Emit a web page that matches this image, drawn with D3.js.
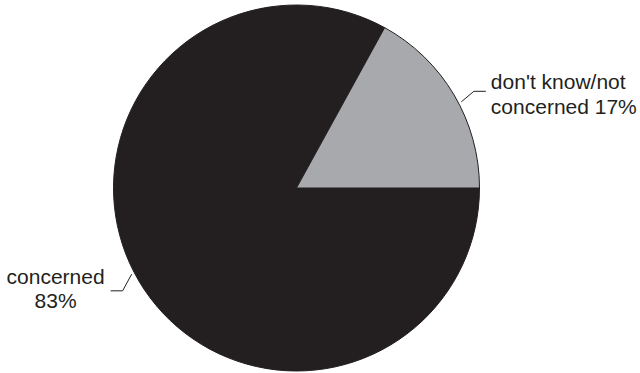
<!DOCTYPE html>
<html>
<head>
<meta charset="utf-8">
<script src="https://cdn.jsdelivr.net/npm/d3@7"></script>
<style>
  body { margin: 0; background: #fff; }
  text { font-family: "Liberation Sans", Arial, sans-serif; fill: #231f20; }
</style>
</head>
<body>
<div class="pie-plot"></div>
<script>
// data
const categories = ['concerned', "don't know/not concerned"];
const values = [83, 17];
const labelLines = [['concerned', '83%'], ["don't know/not", 'concerned 17%']];
const colors = ['#231f20', '#a7a9ac'];

const width = 640;
const height = 373;
const cx = 296.5, cy = 188, r = 183;

const svg = d3.select('.pie-plot')
    .append('svg')
    .attr('width', width)
    .attr('height', height);

const data = categories.map((c, i) => ({name: c, value: values[i], lines: labelLines[i], color: colors[i]}));

// concerned starts at 3 o'clock and runs clockwise
const pie = d3.pie()
    .value(d => d.value)
    .sort(null)
    .startAngle(Math.PI / 2)
    .endAngle(Math.PI / 2 + 2 * Math.PI);

const arcs = pie(data);
const arc = d3.arc().innerRadius(0).outerRadius(r);

const g = svg.append('g').attr('transform', `translate(${cx},${cy})`);

g.selectAll('path')
    .data(arcs)
    .enter()
    .append('path')
    .attr('d', arc)
    .attr('fill', d => d.data.color)
    .attr('stroke', '#231f20')
    .attr('stroke-width', 1);

// leader lines: small elbow out from the edge then a short horizontal
const pt = (a, rad) => [rad * Math.sin(a), -rad * Math.cos(a)];
const deg = Math.PI / 180;
const elbowNudge = [0, 2];
const baseShift = [-7, -2];

arcs.forEach((d, i) => {
    const mid = (d.startAngle + d.endAngle) / 2;
    const p0 = pt(mid + 3 * deg, r + 3);
    const p1 = pt(mid + elbowNudge[i] * deg, r + 19);
    const side = Math.sin(mid) >= 0 ? 1 : -1;
    const p2 = [p1[0] + side * 12, p1[1]];
    g.append('polyline')
        .attr('points', [p0, p1, p2].map(p => p.join(',')).join(' '))
        .attr('fill', 'none')
        .attr('stroke', '#231f20')
        .attr('stroke-width', 1);

    const t = g.append('text')
        .attr('font-size', 21);
    d.data.lines.forEach((line, j) => {
        t.append('tspan')
            .attr('x', 0)
            .attr('dy', j === 0 ? 0 : 24.5)
            .text(line);
    });
    if (side > 0) {
        t.attr('text-anchor', 'start')
            .attr('transform', `translate(${p2[0] + 5},${p2[1] + baseShift[i]})`);
    } else {
        // centred block sitting left of the line end
        const w = t.node().getBBox().width;
        t.attr('text-anchor', 'middle')
            .attr('transform', `translate(${p2[0] - 6 - w / 2},${p2[1] + baseShift[i]})`);
    }
});
</script>
</body>
</html>
